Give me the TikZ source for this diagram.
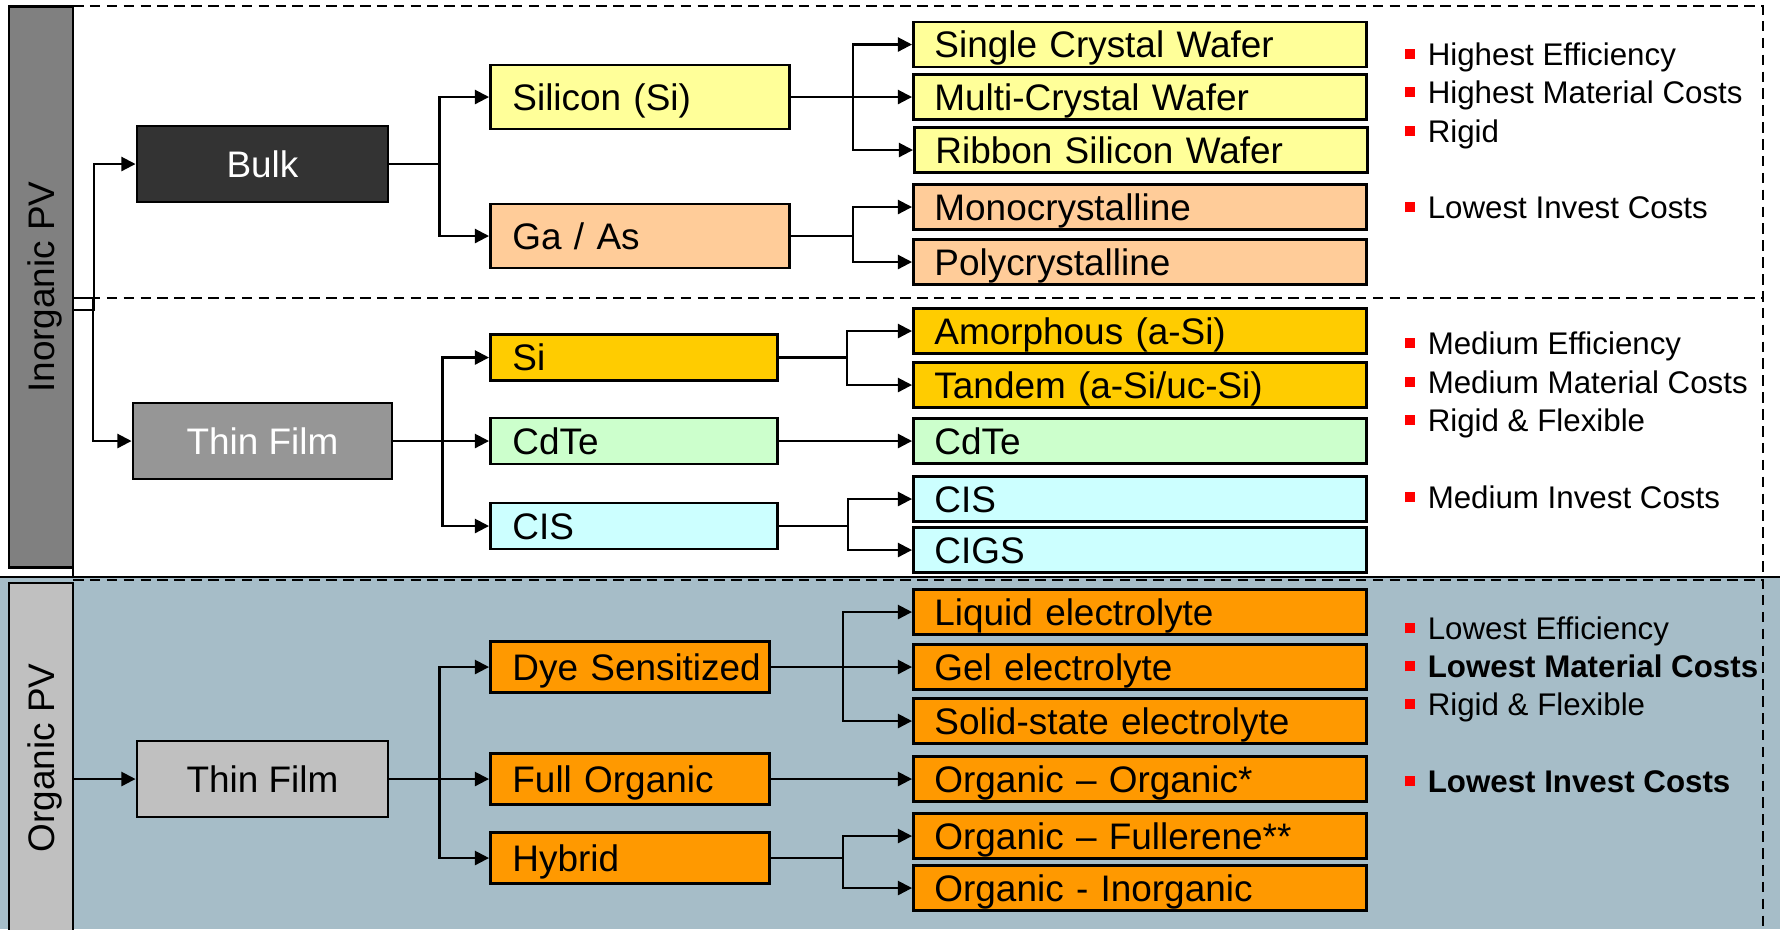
\documentclass[tikz,border=0pt]{standalone}
\usepackage{fontspec}
\setmainfont{Liberation Sans}
\usetikzlibrary{arrows.meta}

\definecolor{barinorg}{HTML}{808080}
\definecolor{bulkfill}{HTML}{333333}
\definecolor{thinfill}{HTML}{969696}
\definecolor{orgfill}{HTML}{C0C0C0}
\definecolor{orgback}{HTML}{A6BDC8}
\definecolor{silfill}{HTML}{FFFF99}
\definecolor{gaasfill}{HTML}{FFCC99}
\definecolor{sifill}{HTML}{FFCC00}
\definecolor{cdtefill}{HTML}{CCFFCC}
\definecolor{cisfill}{HTML}{CCFFFF}
\definecolor{dyefill}{HTML}{FF9900}
\definecolor{notered}{HTML}{FF0000}

\newcommand{\redsq}{{\color{notered}\rule[1.6pt]{2.85pt}{2.85pt}}\hspace{3.7pt}}

\begin{document}
\begin{tikzpicture}[x=0.01cm, y=-0.01cm,
    boxtext/.style={font=\fontsize{10.5}{12}\selectfont, text height=7.5pt, text depth=0pt},
    sidebar/.style={draw=black, line width=0.8pt, rotate=90, minimum height=0.64cm, inner sep=0pt, boxtext},
    rootbox/.style={draw=black, line width=0.8pt, minimum width=2.51cm, minimum height=0.76cm, inner sep=0pt, boxtext},
    midbox/.style={draw=black, line width=0.8pt, anchor=west, align=left, inner xsep=0.22cm, inner ysep=0pt, boxtext},
    silrow/.style={midbox, text width=2.55cm, minimum height=0.64cm},
    thinrow/.style={midbox, text width=2.43cm, minimum height=0.46cm},
    orgrow/.style={midbox, text width=2.35cm, minimum height=0.51cm, fill=dyefill},
    leafbox/.style={draw=black, line width=0.8pt, anchor=west, align=left, text width=4.11cm, minimum height=0.45cm, inner xsep=0.21cm, inner ysep=0pt, boxtext},
    link/.style={line width=0.6pt, -{Triangle[length=4pt,width=4pt]}},
    region/.style={line width=0.6pt, dash pattern=on 3pt off 1.8pt},
    noteline/.style={anchor=base west, inner sep=0pt, font=\fontsize{8.9}{10}\selectfont}]
    \useasboundingbox (0,0) rectangle (1780,929);

    % Organic background band
    \fill[orgback] (0,577) rectangle (1780,929);
    \draw[line width=0.8pt] (0,577) -- (1780,577);

    % Dashed frames
    \draw[region] (73,6) -- (1763,6) -- (1763,577);
    \draw[region] (73,298) -- (1763,298);
    \draw[region] (73,298) -- (73,577);
    \draw[region] (73,580) -- (1763,580) -- (1763,929);

    % Side bars
    \node[sidebar, fill=barinorg, minimum width=5.6cm] (inorg) at (41,287) {Inorganic PV};
    \node[sidebar, fill=orgfill, minimum width=3.5cm] (orgpv) at (41,758) {Organic PV};
    \coordinate (inA) at (73,310);
    \coordinate (inB) at (73,298);

    % First level
    \node[rootbox, fill=bulkfill, text=white] (bulk) at (262.5,164) {Bulk};
    \node[rootbox, fill=thinfill, text=white, minimum width=2.59cm] (thinA) at (262.5,441) {Thin Film};
    \node[rootbox, fill=orgfill] (thinB) at (262.5,779) {Thin Film};

    % Second level
    \node[silrow, fill=silfill] (silicon) at (489,97) {Silicon (Si)};
    \node[silrow, fill=gaasfill] (gaas) at (489,236) {Ga / As};
    \node[thinrow, fill=sifill] (siA) at (489,357.5) {Si};
    \node[thinrow, fill=cdtefill] (cdteA) at (489,441) {CdTe};
    \node[thinrow, fill=cisfill] (cisA) at (489,526) {CIS};
    \node[orgrow] (dye) at (489,667) {\mbox{Dye Sensitized}};
    \node[orgrow] (fullorg) at (489,779) {Full Organic};
    \node[orgrow] (hybrid) at (489,858) {Hybrid};

    % Third level
    \node[leafbox, fill=silfill] (single) at (912,44.5) {Single Crystal Wafer};
    \node[leafbox, fill=silfill] (multi) at (912,97) {Multi-Crystal Wafer};
    \node[leafbox, fill=silfill] (ribbon) at (913,150) {Ribbon Silicon Wafer};
    \node[leafbox, fill=gaasfill] (mono) at (912,207) {Monocrystalline};
    \node[leafbox, fill=gaasfill] (poly) at (912,262) {Polycrystalline};
    \node[leafbox, fill=sifill] (amorph) at (912,331) {Amorphous (a-Si)};
    \node[leafbox, fill=sifill] (tandem) at (912,385) {Tandem (a-Si/uc-Si)};
    \node[leafbox, fill=cdtefill] (cdteB) at (912,441) {CdTe};
    \node[leafbox, fill=cisfill] (cisB) at (912,499) {CIS};
    \node[leafbox, fill=cisfill] (cigs) at (912,550) {CIGS};
    \node[leafbox, fill=dyefill] (liquid) at (912,612) {Liquid electrolyte};
    \node[leafbox, fill=dyefill] (gel) at (912,667) {Gel electrolyte};
    \node[leafbox, fill=dyefill] (solid) at (912,721) {Solid-state electrolyte};
    \node[leafbox, fill=dyefill] (orgorg) at (912,779) {Organic – Organic*};
    \node[leafbox, fill=dyefill] (fuller) at (912,836) {Organic – Fullerene**};
    \node[leafbox, fill=dyefill] (orginorg) at (912,888) {Organic - Inorganic};

    % Connectors
    \draw[link] (inA) -- ++(21,0) |- (bulk.west);
    \draw[link] (inB) -- ++(20,0) |- (thinA.west);
    \draw[link] (orgpv.south |- thinB.west) -- (thinB.west);

    \draw[link] (bulk.east) -- ++(50,0) |- (silicon.west);
    \draw[link] (bulk.east) -- ++(50,0) |- (gaas.west);
    \draw[link] (thinA.east) -- ++(49,0) |- (siA.west);
    \draw[link] (thinA.east) -- (cdteA.west);
    \draw[link] (thinA.east) -- ++(49,0) |- (cisA.west);
    \draw[link] (thinB.east) -- ++(50,0) |- (dye.west);
    \draw[link] (thinB.east) -- (fullorg.west);
    \draw[link] (thinB.east) -- ++(50,0) |- (hybrid.west);

    \draw[link] (silicon.east) -- ++(62,0) |- (single.west);
    \draw[link] (silicon.east) -- (multi.west);
    \draw[link] (silicon.east) -- ++(62,0) |- (ribbon.west);
    \draw[link] (gaas.east) -- ++(62,0) |- (mono.west);
    \draw[link] (gaas.east) -- ++(62,0) |- (poly.west);
    \draw[link] (siA.east) -- ++(68,0) |- (amorph.west);
    \draw[link] (siA.east) -- ++(68,0) |- (tandem.west);
    \draw[link] (cdteA.east) -- (cdteB.west);
    \draw[link] (cisA.east) -- ++(69,0) |- (cisB.west);
    \draw[link] (cisA.east) -- ++(69,0) |- (cigs.west);
    \draw[link] (dye.east) -- ++(72,0) |- (liquid.west);
    \draw[link] (dye.east) -- (gel.west);
    \draw[link] (dye.east) -- ++(72,0) |- (solid.west);
    \draw[link] (fullorg.east) -- (orgorg.west);
    \draw[link] (hybrid.east) -- ++(72,0) |- (fuller.west);
    \draw[link] (hybrid.east) -- ++(72,0) |- (orginorg.west);

    % Notes
    \node[noteline] (noteA1) at (1404,65) {\redsq Highest Efficiency};
    \node[noteline] (noteA2) at (1404,103) {\redsq Highest Material Costs};
    \node[noteline] (noteA3) at (1404,142) {\redsq Rigid};
    \node[noteline] (noteA4) at (1404,218) {\redsq Lowest Invest Costs};
    \node[noteline] (noteB1) at (1404,354) {\redsq Medium Efficiency};
    \node[noteline] (noteB2) at (1404,393) {\redsq Medium Material Costs};
    \node[noteline] (noteB3) at (1404,431) {\redsq Rigid \& Flexible};
    \node[noteline] (noteB4) at (1404,508) {\redsq Medium Invest Costs};
    \node[noteline] (noteC1) at (1404,639) {\redsq Lowest Efficiency};
    \node[noteline] (noteC2) at (1404,677) {\redsq \textbf{Lowest Material Costs}};
    \node[noteline] (noteC3) at (1404,715) {\redsq Rigid \& Flexible};
    \node[noteline] (noteC4) at (1404,792) {\redsq \textbf{Lowest Invest Costs}};
\end{tikzpicture}
\end{document}
